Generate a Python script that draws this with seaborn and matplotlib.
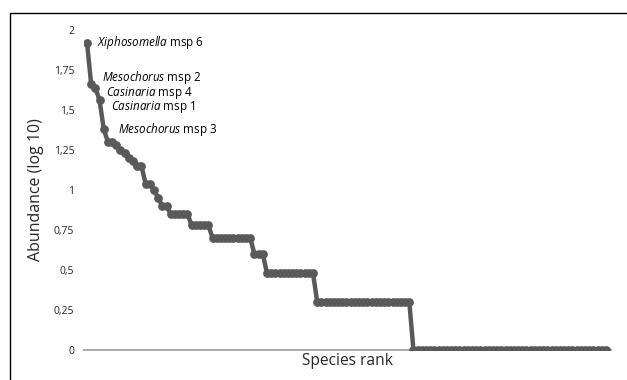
import matplotlib
matplotlib.use("Agg")
import matplotlib.pyplot as plt
from matplotlib.patches import Rectangle
import seaborn as sns
import pandas as pd

# log10 abundance per species, sorted by rank
abundance_log = [
    1.92, 1.66, 1.64, 1.56, 1.38, 1.30, 1.30, 1.28, 1.25, 1.23,
    1.20, 1.18, 1.15, 1.15, 1.04, 1.04, 1.00, 0.95, 0.90, 0.90,
    0.85, 0.85, 0.85, 0.85, 0.85, 0.78, 0.78, 0.78, 0.78, 0.78,
    0.70, 0.70, 0.70, 0.70, 0.70, 0.70, 0.70, 0.70, 0.70, 0.70,
    0.60, 0.60, 0.60, 0.48, 0.48, 0.48, 0.48, 0.48, 0.48, 0.48,
    0.48, 0.48, 0.48, 0.48, 0.48, 0.30, 0.30, 0.30, 0.30, 0.30,
    0.30, 0.30, 0.30, 0.30, 0.30, 0.30, 0.30, 0.30, 0.30, 0.30,
    0.30, 0.30, 0.30, 0.30, 0.30, 0.30, 0.30, 0.30, 0.00, 0.00,
    0.00, 0.00, 0.00, 0.00, 0.00, 0.00, 0.00, 0.00, 0.00, 0.00,
    0.00, 0.00, 0.00, 0.00, 0.00, 0.00, 0.00, 0.00, 0.00, 0.00,
    0.00, 0.00, 0.00, 0.00, 0.00, 0.00, 0.00, 0.00, 0.00, 0.00,
    0.00, 0.00, 0.00, 0.00, 0.00, 0.00, 0.00, 0.00, 0.00, 0.00,
    0.00, 0.00, 0.00, 0.00, 0.00,
]
rank = list(range(len(abundance_log)))

# labelled species: (rank index, genus, morphospecies)
label_rank = [0, 1, 2, 3, 4]
label_genus = ["Xiphosomella", "Mesochorus", "Casinaria", "Casinaria", "Mesochorus"]
label_msp = ["msp 6", "msp 2", "msp 4", "msp 1", "msp 3"]
label_offset_px = [(10, 0), (11, 7), (11, -5), (11, -7), (14, 0)]

y_ticks = [0, 0.25, 0.5, 0.75, 1, 1.25, 1.5, 1.75, 2]

sns.set_theme(style="white")
plt.rcParams['font.family'] = ['Open Sans', 'DejaVu Sans']
plt.rcParams['mathtext.fontset'] = 'custom'
plt.rcParams['mathtext.it'] = 'Open Sans:italic'
plt.rcParams['mathtext.rm'] = 'Open Sans'

df = pd.DataFrame({'rank': rank, 'abund': abundance_log})

fig = plt.figure(figsize=(6.27, 3.80), dpi=100)
W, H = 627, 380
ax = fig.add_axes([84 / W, 30 / H, (611 - 84) / W, (350 - 30) / H])

sns.lineplot(data=df, x='rank', y='abund', ax=ax, color='#595959',
             linewidth=3.2, marker='o', markersize=6.3,
             markeredgewidth=0, zorder=5)

ax.set_xlim(-0.72, len(rank) - 1 + 1.2)
ax.set_ylim(0, 2)
ax.set_yticks(y_ticks)
ax.set_yticklabels([f"{t:g}".replace('.', ',') for t in y_ticks], fontsize=7.5)
ax.set_xticks([])
ax.tick_params(axis='y', length=0, pad=7)

for side in ['top', 'right', 'left']:
    ax.spines[side].set_visible(False)
ax.spines['bottom'].set_color('#a0a0a0')
ax.spines['bottom'].set_linewidth(1.3)
ax.spines['bottom'].set_zorder(1)

ax.set_xlabel('Species rank', fontsize=11.2, labelpad=2)
ax.set_ylabel('Abundance (log 10)', fontsize=11.5, labelpad=7)

for i, genus, msp, (dx, dy) in zip(label_rank, label_genus, label_msp, label_offset_px):
    ax.annotate(rf"$\it{{{genus}}}$ {msp}", xy=(rank[i], abundance_log[i]),
                xytext=(dx, dy), textcoords='offset pixels',
                ha='left', va='center', fontsize=8.4, color='black')

# chart frame (cropped on the right and bottom)
fig.patches.append(Rectangle((10 / W, -0.1), 2, 1.1 - 13 / H,
                             transform=fig.transFigure, fill=False,
                             edgecolor='black', linewidth=1.0))

fig.savefig('out.png', dpi=100)
